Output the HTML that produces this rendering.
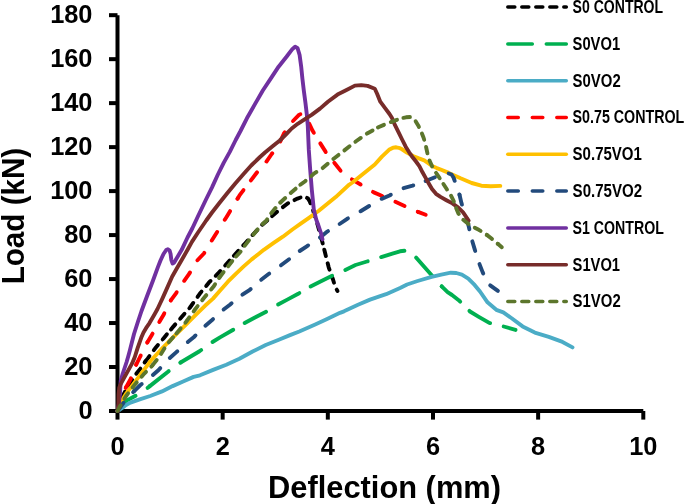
<!DOCTYPE html><html><head><meta charset="utf-8"><style>html,body{margin:0;padding:0;background:#fff;overflow:hidden}svg{display:block;will-change:transform}text{font-family:"Liberation Sans",sans-serif;font-weight:bold;fill:#000}</style></head><body>
<svg width="685" height="504" viewBox="0 0 685 504">
<g stroke="#000" stroke-width="4" fill="none">
<path d="M117.5,15.2 V411 H643.3"/>
<path d="M109,411.00 H117.5"/>
<path d="M109,367.02 H117.5"/>
<path d="M109,323.04 H117.5"/>
<path d="M109,279.06 H117.5"/>
<path d="M109,235.08 H117.5"/>
<path d="M109,191.10 H117.5"/>
<path d="M109,147.12 H117.5"/>
<path d="M109,103.14 H117.5"/>
<path d="M109,59.16 H117.5"/>
<path d="M109,15.18 H117.5"/>
<path d="M117.50,411 V419.6"/>
<path d="M222.66,411 V419.6"/>
<path d="M327.82,411 V419.6"/>
<path d="M432.98,411 V419.6"/>
<path d="M538.14,411 V419.6"/>
<path d="M643.30,411 V419.6"/>
</g>
<g fill="none" stroke-width="3.9" stroke-linecap="round" stroke-linejoin="round">
<path d="M117.5,411.0 L121.8,398.0 L125.2,391.2 L130.5,382.5 L135.9,374.2 L140.4,368.6 L143.8,363.5 L145.4,361.4" stroke="#000000" stroke-dasharray="6.60 7.40"/>
<path d="M145.4,361.4 L147.8,358.4 L155.0,348.6 L163.9,337.9 L171.0,329.4" stroke="#000000" stroke-dasharray="6.60 7.40"/>
<path d="M171.0,329.4 L172.9,327.1 L179.1,320.0 L190.0,307.5 L199.9,293.6 L208.8,282.7 L215.7,275.8" stroke="#000000" stroke-dasharray="6.60 7.40"/>
<path d="M215.7,275.8 L217.8,273.7 L226.7,263.8 L233.9,255.8" stroke="#000000" stroke-dasharray="6.60 7.40"/>
<path d="M233.9,255.8 L235.6,253.9 L244.6,244.0 L253.0,234.5 L262.0,225.0 L271.7,216.4 L272.1,216.1" stroke="#000000" stroke-dasharray="6.60 7.40"/>
<path d="M272.1,216.1 L279.7,209.5 L287.6,203.5 L294.5,200.1" stroke="#000000" stroke-dasharray="6.60 7.40"/>
<path d="M294.5,200.1 L297.5,198.6 L302.5,196.8 L305.4,196.8 L307.0,197.9" stroke="#000000" stroke-dasharray="6.60 7.40"/>
<path d="M307.0,197.9 L308.0,198.5 L309.8,201.5 L312.8,209.5 L317.8,225.4 L322.8,243.7 L324.3,249.7" stroke="#000000" stroke-dasharray="6.60 7.40"/>
<path d="M324.3,249.7 L325.3,253.8 L328.7,267.3 L331.9,276.5" stroke="#000000" stroke-dasharray="6.60 7.40"/>
<path d="M331.9,276.5 L333.0,279.5 L335.4,287.3 L337.5,291.0" stroke="#000000" stroke-dasharray="6.60 7.40"/>
<path d="M117.5,411.0 L120.0,408.0 L123.9,402.6 L127.0,400.4 L130.0,398.8 L137.7,394.7 L148.2,387.4 L149.8,386.1" stroke="#00B050" stroke-dasharray="24.10 14.40"/>
<path d="M149.8,386.1 L168.0,371.7 L178.5,363.8 L180.6,362.5" stroke="#00B050" stroke-dasharray="24.10 14.40"/>
<path d="M180.6,362.5 L199.5,351.3 L210.5,343.2 L212.5,342.0" stroke="#00B050" stroke-dasharray="24.10 14.40"/>
<path d="M212.5,342.0 L220.0,337.4 L231.5,330.8 L242.8,324.0 L244.7,323.0" stroke="#00B050" stroke-dasharray="24.10 14.40"/>
<path d="M244.7,323.0 L254.0,318.0 L265.6,312.0 L276.4,305.4 L278.1,304.5" stroke="#00B050" stroke-dasharray="24.10 14.40"/>
<path d="M278.1,304.5 L287.3,299.6 L298.2,293.8 L309.6,287.0 L310.6,286.5" stroke="#00B050" stroke-dasharray="24.10 14.40"/>
<path d="M310.6,286.5 L320.0,281.7 L332.1,275.7 L344.0,270.5 L345.3,269.9" stroke="#00B050" stroke-dasharray="24.10 14.40"/>
<path d="M345.3,269.9 L355.5,265.0 L367.0,261.5 L379.5,257.6 L381.2,257.1" stroke="#00B050" stroke-dasharray="24.10 14.40"/>
<path d="M381.2,257.1 L392.4,253.6 L400.0,251.3 L404.5,250.8 L408.5,252.0 L413.0,254.5 L416.1,257.6" stroke="#00B050" stroke-dasharray="24.10 14.40"/>
<path d="M416.1,257.6 L416.5,258.0 L422.2,264.6 L431.7,275.2 L440.5,285.2 L441.7,286.4" stroke="#00B050" stroke-dasharray="24.10 14.40"/>
<path d="M441.7,286.4 L447.6,292.1 L452.0,295.0 L458.7,300.2 L464.0,305.5 L469.4,310.9" stroke="#00B050" stroke-dasharray="24.10 14.40"/>
<path d="M469.4,310.9 L470.0,311.5 L478.8,316.8 L489.3,322.9 L501.5,325.9 L503.7,326.5" stroke="#00B050" stroke-dasharray="24.10 14.40"/>
<path d="M503.7,326.5 L515.5,329.9" stroke="#00B050" stroke-dasharray="24.10 14.40"/>
<path d="M117.5,411.0 L120.0,409.5 L122.6,407.6 L126.0,405.0 L130.5,402.6 L139.7,399.3 L150.2,396.0 L162.0,391.4 L172.6,386.1 L183.1,381.5 L193.6,376.9 L200.0,375.3 L213.1,369.9 L226.3,364.7 L239.4,358.8 L252.6,351.5 L265.7,345.0 L278.8,339.7 L290.0,335.1 L299.3,331.5 L315.2,324.5 L327.1,319.0 L340.0,312.8 L344.0,311.3 L358.0,304.7 L370.0,299.6 L386.1,294.2 L400.1,288.0 L407.1,284.5 L417.6,281.0 L431.6,276.8 L441.3,274.6 L450.8,272.7 L456.3,273.0 L461.9,274.6 L468.3,278.6 L474.6,284.9 L480.0,291.5 L487.5,302.3 L496.3,309.8 L503.3,312.4 L512.0,318.5 L522.6,326.4 L534.8,332.6 L548.8,336.9 L561.1,341.3 L572.5,347.4" stroke="#4BACC6"/>
<path d="M117.5,411.0 L121.0,400.0 L125.2,388.9 L126.1,387.2" stroke="#FF0000" stroke-dasharray="10.10 14.40"/>
<path d="M126.1,387.2 L130.8,378.7 L135.3,366.3 L136.2,364.6" stroke="#FF0000" stroke-dasharray="10.10 14.40"/>
<path d="M136.2,364.6 L139.5,358.0 L147.4,342.3" stroke="#FF0000" stroke-dasharray="10.10 14.40"/>
<path d="M147.4,342.3 L147.9,341.4 L151.5,335.5 L158.3,323.7 L159.3,322.0" stroke="#FF0000" stroke-dasharray="10.10 14.40"/>
<path d="M159.3,322.0 L163.9,314.2 L169.4,302.3 L170.8,300.4" stroke="#FF0000" stroke-dasharray="10.10 14.40"/>
<path d="M170.8,300.4 L175.8,293.6 L182.9,282.5 L184.2,280.8" stroke="#FF0000" stroke-dasharray="10.10 14.40"/>
<path d="M184.2,280.8 L189.3,273.7 L196.0,261.8 L203.9,253.5 L211.5,241.0 L226.4,217.2 L237.7,198.4" stroke="#FF0000" stroke-dasharray="10.10 14.40"/>
<path d="M237.7,198.4 L239.5,195.4 L249.9,181.7 L250.9,180.4" stroke="#FF0000" stroke-dasharray="10.10 14.40"/>
<path d="M250.9,180.4 L256.9,172.5 L264.8,163.9 L271.7,154.0 L279.3,143.7 L280.3,141.4" stroke="#FF0000" stroke-dasharray="10.10 14.40"/>
<path d="M280.3,141.4 L283.8,133.7 L291.7,122.3 L293.0,121.0" stroke="#FF0000" stroke-dasharray="10.10 14.40"/>
<path d="M293.0,121.0 L299.2,114.7 L302.0,113.6 L305.0,116.5 L308.6,122.3 L312.6,130.8 L319.0,141.2 L320.3,143.4" stroke="#FF0000" stroke-dasharray="10.10 14.40"/>
<path d="M320.3,143.4 L325.7,151.9 L333.3,161.4 L334.3,162.7" stroke="#FF0000" stroke-dasharray="10.10 14.40"/>
<path d="M334.3,162.7 L340.6,170.7 L347.6,176.9 L361.9,185.2 L373.8,192.4 L390.5,199.5 L402.4,205.0 L416.2,211.2 L418.0,211.9" stroke="#FF0000" stroke-dasharray="10.10 14.40"/>
<path d="M418.0,211.9 L425.7,214.8" stroke="#FF0000" stroke-dasharray="10.10 14.40"/>
<path d="M117.5,411.0 L120.6,402.5 L126.3,393.4 L133.1,384.4 L139.9,375.3 L146.6,366.3 L151.0,360.5 L162.9,347.6 L174.8,335.7 L186.7,323.8 L196.2,314.3 L205.0,305.8 L213.0,298.6 L219.9,290.7 L227.9,281.7 L235.8,273.8 L243.7,266.4 L251.7,259.4 L258.6,254.0 L263.8,249.8 L273.3,243.2 L282.9,236.7 L292.4,229.5 L300.0,224.2 L308.6,218.1 L318.5,211.0 L335.7,197.1 L349.0,184.8 L352.4,182.5 L366.7,171.0 L374.8,164.5 L381.9,156.6 L389.0,149.8 L393.0,147.7 L396.2,147.3 L400.0,148.2 L402.1,149.3 L406.9,152.6 L413.6,156.2 L418.9,158.4 L424.3,160.4 L427.9,163.0 L432.0,165.9 L436.8,168.1 L440.0,169.3 L448.8,172.9 L460.6,178.3 L471.7,183.0 L481.3,185.7 L490.8,186.2 L500.3,185.9" stroke="#FFC000"/>
<path d="M117.5,411.0 L122.9,403.6 L133.0,392.3 L134.4,390.9" stroke="#224A7C" stroke-dasharray="10.10 14.40"/>
<path d="M134.4,390.9 L140.4,385.0 L151.4,376.3 L152.9,375.0" stroke="#224A7C" stroke-dasharray="10.10 14.40"/>
<path d="M152.9,375.0 L158.6,370.0 L168.4,359.3 L169.8,358.0" stroke="#224A7C" stroke-dasharray="10.10 14.40"/>
<path d="M169.8,358.0 L176.4,352.1 L186.3,343.2 L187.8,342.0" stroke="#224A7C" stroke-dasharray="10.10 14.40"/>
<path d="M187.8,342.0 L194.0,337.0 L204.5,326.5 L205.4,325.7" stroke="#224A7C" stroke-dasharray="10.10 14.40"/>
<path d="M205.4,325.7 L212.1,320.0 L222.0,310.7 L223.6,309.5" stroke="#224A7C" stroke-dasharray="10.10 14.40"/>
<path d="M223.6,309.5 L229.9,304.7 L240.8,295.8 L242.4,294.7" stroke="#224A7C" stroke-dasharray="10.10 14.40"/>
<path d="M242.4,294.7 L249.8,289.8 L259.7,280.9 L261.2,279.7" stroke="#224A7C" stroke-dasharray="10.10 14.40"/>
<path d="M261.2,279.7 L268.6,274.0 L280.0,266.0 L290.0,258.5 L297.5,252.5 L299.7,251.0" stroke="#224A7C" stroke-dasharray="10.10 14.40"/>
<path d="M299.7,251.0 L306.8,246.3 L318.6,238.6 L320.1,237.4" stroke="#224A7C" stroke-dasharray="10.10 14.40"/>
<path d="M320.1,237.4 L327.3,231.6 L338.0,225.1 L339.6,224.0" stroke="#224A7C" stroke-dasharray="10.10 14.40"/>
<path d="M339.6,224.0 L347.2,218.8 L361.0,211.0 L379.3,199.8 L389.5,195.5 L401.9,188.6 L412.6,185.7 L424.5,181.4 L425.6,181.0" stroke="#224A7C" stroke-dasharray="10.10 14.40"/>
<path d="M425.6,181.0 L435.2,177.1 L444.0,174.3 L448.5,173.4 L448.7,173.5" stroke="#224A7C" stroke-dasharray="10.10 14.40"/>
<path d="M448.7,173.5 L451.5,174.5 L453.5,177.5 L455.5,183.0 L459.0,192.5 L459.5,194.8" stroke="#224A7C" stroke-dasharray="10.10 14.40"/>
<path d="M459.5,194.8 L461.4,202.9 L465.4,214.8 L466.8,219.5" stroke="#224A7C" stroke-dasharray="10.10 14.40"/>
<path d="M466.8,219.5 L468.6,225.9 L471.7,239.3 L472.3,241.3" stroke="#224A7C" stroke-dasharray="10.10 14.40"/>
<path d="M472.3,241.3 L474.8,249.6 L478.8,262.3 L479.5,264.1" stroke="#224A7C" stroke-dasharray="10.10 14.40"/>
<path d="M479.5,264.1 L482.8,272.6 L489.1,284.5 L490.2,285.3" stroke="#224A7C" stroke-dasharray="10.10 14.40"/>
<path d="M490.2,285.3 L497.9,290.9" stroke="#224A7C" stroke-dasharray="10.10 14.40"/>
<path d="M117.5,411.0 L119.0,403.0 L120.0,393.0 L120.7,381.0 L122.6,374.0 L124.6,368.0 L126.6,362.0 L128.2,356.5 L129.7,351.0 L134.0,334.0 L138.0,321.5 L141.5,311.0 L147.1,296.0 L153.1,280.2 L157.9,267.1 L160.5,260.5 L163.5,254.0 L166.2,250.0 L167.9,249.2 L169.6,250.5 L170.6,254.0 L171.3,259.8 L172.6,263.5 L174.2,262.5 L175.8,259.8 L181.7,249.8 L187.5,237.5 L192.5,228.0 L198.1,216.0 L206.0,199.5 L211.9,187.6 L217.9,174.5 L223.8,162.6 L229.8,151.9 L235.7,140.0 L240.5,131.0 L246.9,118.3 L254.8,104.4 L262.8,90.5 L270.7,78.6 L278.6,66.7 L286.5,56.8 L292.5,48.9 L295.1,46.7 L297.6,48.2 L299.6,55.0 L301.2,66.7 L302.4,78.6 L303.8,90.5 L305.4,102.4 L306.8,114.3 L307.8,126.2 L308.8,149.9 L310.2,169.7 L311.8,189.6 L313.8,209.5 L316.2,219.5 L318.6,226.0 L321.1,233.5 L322.5,239.4" stroke="#7030A0"/>
<path d="M117.8,411.0 L118.4,406.0 L118.6,395.0 L119.2,388.0 L120.3,385.0 L121.5,382.6 L126.6,373.4 L132.1,363.4 L134.8,357.0 L137.6,348.1 L141.2,337.8 L143.5,332.5 L146.0,328.2 L149.5,323.1 L154.3,314.8 L157.5,309.0 L162.6,298.1 L167.4,287.4 L172.1,276.7 L176.9,268.3 L181.7,260.0 L187.7,249.5 L191.9,241.9 L198.0,232.5 L206.2,220.5 L212.0,212.5 L219.0,203.5 L227.4,193.0 L235.7,183.0 L244.0,173.5 L251.2,165.5 L260.0,157.0 L265.0,152.5 L272.9,146.0 L279.8,140.5 L286.8,133.5 L291.7,128.5 L297.7,123.8 L304.6,119.3 L311.6,114.9 L320.0,108.6 L327.9,101.7 L337.5,94.6 L347.0,89.8 L354.9,85.6 L361.3,85.1 L367.6,85.9 L374.8,88.7 L377.1,93.8 L380.3,101.7 L385.1,108.1 L389.5,114.0 L392.0,118.1 L395.0,125.2 L398.6,132.4 L402.1,139.5 L405.7,146.7 L409.3,152.6 L411.8,156.2 L416.0,161.5 L419.5,166.3 L422.5,172.3 L425.5,177.6 L428.5,183.0 L432.0,189.0 L436.0,193.8 L440.5,196.9 L446.4,200.2 L452.4,203.4 L458.3,207.6 L463.1,212.3 L468.6,220.5" stroke="#772C2A"/>
<path d="M117.5,411.0 L119.5,407.0 L126.3,395.7 L135.0,384.4 L144.3,373.6 L151.4,366.6 L152.6,365.1" stroke="#5C762C" stroke-dasharray="6.60 7.40"/>
<path d="M152.6,365.1 L159.3,356.7 L166.7,344.8 L175.2,334.9 L176.4,333.4" stroke="#5C762C" stroke-dasharray="6.60 7.40"/>
<path d="M176.4,333.4 L180.6,328.4 L186.3,321.5 L195.0,309.5 L203.9,298.0 L213.8,286.3 L218.4,278.8 L219.6,277.3" stroke="#5C762C" stroke-dasharray="6.60 7.40"/>
<path d="M219.6,277.3 L226.4,268.4 L234.8,257.9 L236.1,256.5" stroke="#5C762C" stroke-dasharray="6.60 7.40"/>
<path d="M236.1,256.5 L240.3,252.0 L244.5,246.0 L253.9,234.0 L260.0,226.4 L266.5,220.5 L270.1,214.5 L279.0,203.8 L280.4,202.5" stroke="#5C762C" stroke-dasharray="6.60 7.40"/>
<path d="M280.4,202.5 L288.6,194.9 L298.7,186.0 L300.3,184.8" stroke="#5C762C" stroke-dasharray="6.60 7.40"/>
<path d="M300.3,184.8 L305.2,181.2 L310.0,177.2 L314.3,173.3 L322.4,168.3 L334.3,158.2 L345.0,149.9 L355.7,141.5 L367.6,133.2 L377.9,127.5" stroke="#5C762C" stroke-dasharray="6.60 7.40"/>
<path d="M377.9,127.5 L378.3,127.3 L388.5,122.9 L396.8,119.9 L401.5,118.1 L403.4,117.8" stroke="#5C762C" stroke-dasharray="6.60 7.40"/>
<path d="M403.4,117.8 L406.0,117.3 L410.5,117.0 L413.0,118.0 L415.5,121.0 L418.5,126.0 L421.0,131.5 L421.9,133.6" stroke="#5C762C" stroke-dasharray="6.60 7.40"/>
<path d="M421.9,133.6 L423.5,137.5 L425.2,143.0 L426.5,149.0 L427.8,155.0 L429.5,160.4" stroke="#5C762C" stroke-dasharray="6.60 7.40"/>
<path d="M429.5,160.4 L429.5,160.5 L432.1,166.3 L434.5,170.5 L439.3,177.6 L442.3,182.4 L443.4,184.0" stroke="#5C762C" stroke-dasharray="6.60 7.40"/>
<path d="M443.4,184.0 L447.0,189.5 L450.0,193.7 L453.6,200.8 L455.4,206.2 L456.1,208.0" stroke="#5C762C" stroke-dasharray="6.60 7.40"/>
<path d="M456.1,208.0 L458.3,213.3 L462.2,219.0 L467.8,223.5 L472.5,226.6 L478.8,229.8 L485.2,233.7 L486.8,234.9" stroke="#5C762C" stroke-dasharray="6.60 7.40"/>
<path d="M486.8,234.9 L491.5,238.5 L496.3,242.5 L497.8,243.8" stroke="#5C762C" stroke-dasharray="6.60 7.40"/>
<path d="M497.8,243.8 L501.8,247.2" stroke="#5C762C" stroke-dasharray="6.60 7.40"/>
</g>
<text x="92.5" y="419.0" font-size="25.4" text-anchor="end">0</text>
<text x="92.5" y="375.0" font-size="25.4" text-anchor="end">20</text>
<text x="92.5" y="331.0" font-size="25.4" text-anchor="end">40</text>
<text x="92.5" y="287.1" font-size="25.4" text-anchor="end">60</text>
<text x="92.5" y="243.1" font-size="25.4" text-anchor="end">80</text>
<text x="92.5" y="199.1" font-size="25.4" text-anchor="end">100</text>
<text x="92.5" y="155.1" font-size="25.4" text-anchor="end">120</text>
<text x="92.5" y="111.1" font-size="25.4" text-anchor="end">140</text>
<text x="92.5" y="67.2" font-size="25.4" text-anchor="end">160</text>
<text x="92.5" y="23.2" font-size="25.4" text-anchor="end">180</text>
<text x="117.5" y="455" font-size="25.4" text-anchor="middle">0</text>
<text x="222.7" y="455" font-size="25.4" text-anchor="middle">2</text>
<text x="327.8" y="455" font-size="25.4" text-anchor="middle">4</text>
<text x="433.0" y="455" font-size="25.4" text-anchor="middle">6</text>
<text x="538.1" y="455" font-size="25.4" text-anchor="middle">8</text>
<text x="643.3" y="455" font-size="25.4" text-anchor="middle">10</text>
<text x="268" y="497.5" font-size="30.5" textLength="233" lengthAdjust="spacingAndGlyphs">Deflection (mm)</text>
<text transform="translate(24.3,284.3) rotate(-90)" x="0" y="0" font-size="30.5" textLength="136.5" lengthAdjust="spacingAndGlyphs">Load (kN)</text>
<path d="M507.8,7.10 H566.3" stroke="#000000" stroke-width="3.5" stroke-linecap="round" stroke-dasharray="7 7"/>
<text x="572.6" y="13.00" font-size="17.6" textLength="90.5" lengthAdjust="spacingAndGlyphs">S0 CONTROL</text>
<path d="M507.8,43.90 H566.3" stroke="#00B050" stroke-width="3.5" stroke-linecap="round" stroke-dasharray="24.5 14"/>
<text x="572.6" y="49.80" font-size="17.6" textLength="47.5" lengthAdjust="spacingAndGlyphs">S0VO1</text>
<path d="M507.8,80.70 H566.3" stroke="#4BACC6" stroke-width="3.5" stroke-linecap="round"/>
<text x="572.6" y="86.60" font-size="17.6" textLength="48.1" lengthAdjust="spacingAndGlyphs">S0VO2</text>
<path d="M507.8,117.50 H566.3" stroke="#FF0000" stroke-width="3.5" stroke-linecap="round" stroke-dasharray="10.5 14"/>
<text x="572.6" y="123.40" font-size="17.6" textLength="111.7" lengthAdjust="spacingAndGlyphs">S0.75 CONTROL</text>
<path d="M507.8,154.30 H566.3" stroke="#FFC000" stroke-width="3.5" stroke-linecap="round"/>
<text x="572.6" y="160.20" font-size="17.6" textLength="69.3" lengthAdjust="spacingAndGlyphs">S0.75VO1</text>
<path d="M507.8,191.10 H566.3" stroke="#224A7C" stroke-width="3.5" stroke-linecap="round" stroke-dasharray="10.5 14"/>
<text x="572.6" y="197.00" font-size="17.6" textLength="69.5" lengthAdjust="spacingAndGlyphs">S0.75VO2</text>
<path d="M507.8,227.90 H566.3" stroke="#7030A0" stroke-width="3.5" stroke-linecap="round"/>
<text x="572.6" y="233.80" font-size="17.6" textLength="91.2" lengthAdjust="spacingAndGlyphs">S1 CONTROL</text>
<path d="M507.8,264.70 H566.3" stroke="#772C2A" stroke-width="3.5" stroke-linecap="round"/>
<text x="572.6" y="270.60" font-size="17.6" textLength="47.4" lengthAdjust="spacingAndGlyphs">S1VO1</text>
<path d="M507.8,301.50 H566.3" stroke="#5C762C" stroke-width="3.5" stroke-linecap="round" stroke-dasharray="7 7"/>
<text x="572.6" y="307.40" font-size="17.6" textLength="48.1" lengthAdjust="spacingAndGlyphs">S1VO2</text>
</svg></body></html>
